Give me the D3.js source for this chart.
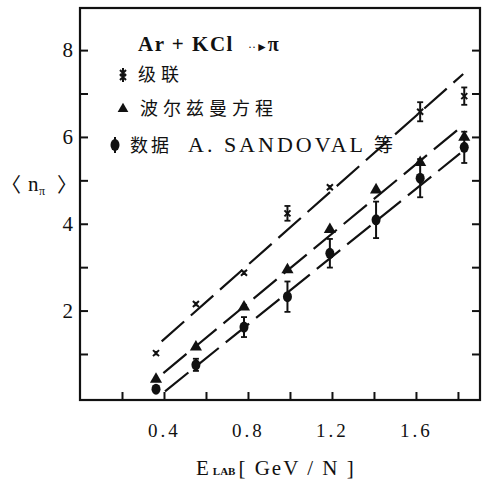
<!DOCTYPE html>
<html>
<head>
<meta charset="utf-8">
<script src="https://cdn.jsdelivr.net/npm/d3@7"></script>
<style>
  body { margin: 0; background: #fff; }
  svg { display: block; }
  .axis text { font-family: "Liberation Serif", "DejaVu Serif", serif; fill: #111; }
  .axis line { stroke: #111; stroke-width: 2; }
  .axis path { display: none; }
</style>
</head>
<body>
<svg id="chart"></svg>
<script>
// E_LAB (GeV/N) of the measured points
const energies = [0.362, 0.552, 0.781, 0.988, 1.19, 1.41, 1.62, 1.83];

// 级联 (cascade) model, no point at 1.41
const cascadeE   = [0.362, 0.552, 0.781, 0.988, 1.19, 1.62, 1.83];
const cascadeN   = [1.02, 2.15, 2.87, 4.24, 4.84, 6.58, 6.94];
const cascadeErr = [0.05, 0.05, 0.05, 0.17, 0.05, 0.22, 0.2];

// 波尔兹曼方程
const boltzN = [0.42, 1.16, 2.08, 2.94, 3.87, 4.78, 5.41, 5.99];

// 数据 A. SANDOVAL 等
const dataN   = [0.19, 0.75, 1.62, 2.32, 3.32, 4.09, 5.05, 5.76];
const dataErr = [0.04, 0.14, 0.23, 0.35, 0.33, 0.42, 0.44, 0.36];

// dashed fit lines, [E, n] end points
const cascadeFit = [[0.389, 1.29], [1.825, 7.45]];
const boltzFit   = [[0.397, 0.56], [1.825, 6.27]];
const dataFit    = [[0.405, 0.14], [1.81, 5.62]];

const xTicks = [0.2, 0.4, 0.6, 0.8, 1.0, 1.2, 1.4, 1.6, 1.8];
const xLabels = [0.4, 0.8, 1.2, 1.6];
const yTicks = [1, 2, 3, 4, 5, 6, 7, 8];
const yLabels = [2, 4, 6, 8];

const W = 487, H = 484;
const margin = {top: 8, right: 7, bottom: 84, left: 80};
const width = W - margin.left - margin.right;
const height = H - margin.top - margin.bottom;

const svg = d3.select('#chart').attr('width', W).attr('height', H);
const chart = svg.append('g').attr('transform', `translate(${margin.left},${margin.top})`);

const x = d3.scaleLinear().domain([0, 1.905]).range([0, width]);
const y = d3.scaleLinear().domain([-0.06, 8.97]).range([height, 0]);

// axes, ticks point inward
chart.append('g')
    .attr('class', 'axis x-axis')
    .attr('transform', `translate(0,${height})`)
    .call(d3.axisBottom(x).tickValues(xTicks).tickSize(-8).tickPadding(24)
        .tickFormat(d => xLabels.some(v => Math.abs(v - d) < 1e-6) ? d3.format('.1f')(d) : ''))
    .selectAll('text').style('font-size', '19px').style('letter-spacing', '3px');

chart.append('g')
    .attr('class', 'axis y-axis')
    .call(d3.axisLeft(y).tickValues(yTicks).tickSize(-8).tickPadding(7)
        .tickFormat(d => yLabels.includes(d) ? d : ''))
    .selectAll('text').style('font-size', '21px');

chart.append('g')
    .attr('class', 'axis y-axis-right')
    .attr('transform', `translate(${width},0)`)
    .call(d3.axisRight(y).tickValues(yTicks).tickSize(-8).tickFormat(''));

// frame
chart.append('rect')
    .attr('width', width).attr('height', height)
    .attr('fill', 'none').attr('stroke', '#111').attr('stroke-width', 2.2);

// fit lines
const line = d3.line().x(d => x(d[0])).y(d => y(d[1]));
[cascadeFit, boltzFit, dataFit].forEach(f => {
    chart.append('path')
        .attr('d', line(f))
        .attr('fill', 'none')
        .attr('stroke', '#111')
        .attr('stroke-width', 2.2)
        .attr('stroke-dasharray', '30,9');
});

// error bar helper
function errBar(g, cx, cy, e) {
    const y1 = y(cy + e), y2 = y(cy - e);
    g.append('line').attr('x1', cx).attr('x2', cx).attr('y1', y1).attr('y2', y2)
        .attr('stroke', '#111').attr('stroke-width', 2);
    if (e > 0.1) {
        [y1, y2].forEach(yy => g.append('line')
            .attr('x1', cx - 3).attr('x2', cx + 3).attr('y1', yy).attr('y2', yy)
            .attr('stroke', '#111').attr('stroke-width', 1.8));
    }
}

// cascade markers: small cross on a bar
const cas = chart.append('g');
cascadeE.forEach((e, i) => {
    const cx = x(e), cy = y(cascadeN[i]);
    errBar(cas, cx, cascadeN[i], cascadeErr[i]);
    cas.append('path')
        .attr('d', `M${cx - 3},${cy - 3}L${cx + 3},${cy + 3}M${cx + 3},${cy - 3}L${cx - 3},${cy + 3}`)
        .attr('stroke', '#111').attr('stroke-width', 2);
});

// boltzmann triangles
chart.append('g').selectAll('path')
    .data(energies)
    .join('path')
    .attr('transform', (d, i) => `translate(${x(d)},${y(boltzN[i])})`)
    .attr('d', d3.symbol(d3.symbolTriangle, 64))
    .attr('fill', '#111');

// data points with error bars
const pts = chart.append('g');
energies.forEach((e, i) => {
    errBar(pts, x(e), dataN[i], dataErr[i]);
    pts.append('ellipse')
        .attr('cx', x(e)).attr('cy', y(dataN[i]))
        .attr('rx', 4.5).attr('ry', 5.5)
        .attr('fill', '#111');
});

// legend
const serif = '"Liberation Serif", "DejaVu Serif", serif';
const cjk = '"Noto Sans CJK SC", sans-serif';
const leg = svg.append('g');

const title = leg.append('text')
    .attr('x', 138).attr('y', 51)
    .attr('font-family', serif).attr('font-size', 21).attr('font-weight', 'bold')
    .attr('fill', '#111');
title.append('tspan').attr('letter-spacing', '1.5px').text('Ar + KCl');
title.append('tspan').attr('dx', 14).attr('font-size', 12).attr('font-weight', 'normal').text('··►');
title.append('tspan').attr('font-size', 20).text('π');

// row 1: cascade
leg.append('path')
    .attr('d', 'M123,68L123,82M120,70L126,76M126,70L120,76M120,74L126,80M126,74L120,80')
    .attr('stroke', '#111').attr('stroke-width', 2);
leg.append('text').attr('x', 138).attr('y', 81)
    .attr('font-family', cjk).attr('font-size', 18).attr('letter-spacing', '5px')
    .attr('fill', '#111').text('级联');

// row 2: boltzmann
leg.append('path')
    .attr('transform', 'translate(123,109)')
    .attr('d', d3.symbol(d3.symbolTriangle, 50))
    .attr('fill', '#111');
leg.append('text').attr('x', 140).attr('y', 115)
    .attr('font-family', cjk).attr('font-size', 18).attr('letter-spacing', '5px')
    .attr('fill', '#111').text('波尔兹曼方程');

// row 3: data
leg.append('line').attr('x1', 115).attr('x2', 115).attr('y1', 137).attr('y2', 153)
    .attr('stroke', '#111').attr('stroke-width', 2);
leg.append('ellipse').attr('cx', 115).attr('cy', 145).attr('rx', 4.5).attr('ry', 6).attr('fill', '#111');
const row3 = leg.append('text').attr('x', 130).attr('y', 152).attr('fill', '#111');
row3.append('tspan').attr('font-family', cjk).attr('font-size', 18).attr('letter-spacing', '3px').text('数据');
row3.append('tspan').attr('dx', 16).attr('font-family', serif).attr('font-size', 22)
    .attr('letter-spacing', '3px').text('A. SANDOVAL');
row3.append('tspan').attr('dx', 8).attr('font-family', cjk).attr('font-size', 19).text('等');

// y axis title, pieces placed one by one
const yTitle = svg.append('g').attr('fill', '#111');
yTitle.append('text').attr('x', 1).attr('y', 192)
    .attr('font-family', cjk).attr('font-size', 20).text('〈');
yTitle.append('text').attr('x', 28).attr('y', 191)
    .attr('font-family', serif).attr('font-size', 21).text('n');
yTitle.append('text').attr('x', 39).attr('y', 195)
    .attr('font-family', serif).attr('font-size', 12).text('π');
yTitle.append('text').attr('x', 57).attr('y', 192)
    .attr('font-family', cjk).attr('font-size', 20).text('〉');

const xt = svg.append('text')
    .attr('x', 196).attr('y', 475)
    .attr('font-family', serif).attr('font-size', 21).attr('fill', '#111');
xt.append('tspan').text('E');
xt.append('tspan').attr('dx', 4).attr('font-size', 11).attr('font-weight', 'bold').text('LAB');
xt.append('tspan').attr('dx', 3).attr('letter-spacing', '2px').text('[ GeV / N ]');
</script>
</body>
</html>
